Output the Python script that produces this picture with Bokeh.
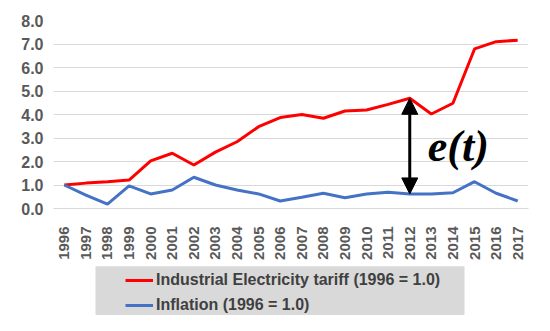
import math
from bokeh.plotting import figure
from bokeh.layouts import column
from bokeh.models import (FactorRange, Range1d, Legend, LegendItem, BoxAnnotation,
                          Arrow, NormalHead, ColumnDataSource, SingleIntervalTicker,
                          NumeralTickFormatter)
from bokeh.core.properties import value
from bokeh.embed import file_html
from bokeh.resources import INLINE

years = [str(y) for y in range(1996, 2018)]
tariff = [1.00, 1.08, 1.14, 1.21, 2.03, 2.35, 1.85, 2.40, 2.84, 3.48, 3.87,
          4.00, 3.84, 4.15, 4.19, 4.43, 4.69, 4.02, 4.48, 6.79, 7.10, 7.16]
inflation = [1.00, 0.57, 0.19, 0.96, 0.62, 0.79, 1.33, 1.00, 0.79, 0.62, 0.32,
             0.48, 0.65, 0.46, 0.62, 0.69, 0.62, 0.62, 0.67, 1.14, 0.65, 0.32]
tariff_label = "Industrial Electricity tariff (1996 = 1.0)"
inflation_label = "Inflation (1996 = 1.0)"
gap_year = "2012"
gap_text = "e(t)"
RED = "#ff0000"
BLUE = "#4472c4"

p = figure(width=534, height=262, x_range=FactorRange(factors=years, range_padding=0),
           y_range=Range1d(0, 8), output_backend="svg", toolbar_location=None,
           min_border_left=53, min_border_top=20, min_border_right=6, min_border_bottom=53)
p.outline_line_color = None

r1 = p.line(years, tariff, line_color=RED, line_width=3)
r2 = p.line(years, inflation, line_color=BLUE, line_width=3)

i = years.index(gap_year)
src = ColumnDataSource(dict(x=[gap_year], y0=[inflation[i]], y1=[tariff[i]]))
p.add_layout(Arrow(x_start="x", y_start="y0", x_end="x", y_end="y1", source=src,
                   line_color="black", line_width=3,
                   start=NormalHead(size=16, fill_color="black", line_color="black"),
                   end=NormalHead(size=16, fill_color="black", line_color="black")))
p.text(x=[gap_year], y=[(inflation[i] + tariff[i]) / 2], text=[gap_text], x_offset=18,
       text_font=value("Liberation Serif"), text_font_style="bold italic",
       text_font_size="44px", text_baseline="middle", text_align="left", text_color="black")

# axes
p.yaxis.ticker = SingleIntervalTicker(interval=1)
p.yaxis.formatter = NumeralTickFormatter(format="0.0")
p.yaxis.axis_line_color = None
p.yaxis.major_tick_line_color = None
p.yaxis.minor_tick_line_color = None
p.yaxis.major_tick_out = 0
p.yaxis.major_label_standoff = 6
p.yaxis.major_label_text_font = "Liberation Sans"
p.yaxis.major_label_text_font_style = "bold"
p.yaxis.major_label_text_font_size = "16px"
p.yaxis.major_label_text_color = "#595959"

p.xaxis.axis_line_color = "#d9d9d9"
p.xaxis.major_tick_line_color = None
p.xaxis.major_tick_out = 0
p.xaxis.major_label_standoff = 18
p.xaxis.major_label_orientation = math.pi / 2
p.xaxis.major_label_text_font = "Liberation Sans"
p.xaxis.major_label_text_font_style = "bold"
p.xaxis.major_label_text_font_size = "15px"
p.xaxis.major_label_text_color = "#595959"

p.xgrid.grid_line_color = None
p.ygrid.grid_line_color = "#d9d9d9"
p.ygrid.grid_line_width = 1

# legend strip below the chart (its frame is aligned with the chart's frame: x 53..528)
p2 = figure(width=534, height=53, x_range=Range1d(53, 528), y_range=Range1d(0, 53),
            output_backend="svg", toolbar_location=None, min_border=0)
p2.axis.visible = False
p2.grid.visible = False
p2.outline_line_color = None
p2.add_layout(BoxAnnotation(left=95, right=464, bottom=0, top=49.3,
                            fill_color="#d9d9d9", fill_alpha=1, line_color=None))
nan = float("nan")
k1 = p2.line([nan], [nan], line_color=RED, line_width=3)
k2 = p2.line([nan], [nan], line_color=BLUE, line_width=3)
legend = Legend(items=[LegendItem(label=tariff_label, renderers=[k1]),
                       LegendItem(label=inflation_label, renderers=[k2])],
                location=(72, 0), padding=2, spacing=5, label_height=20, margin=0,
                glyph_width=28, glyph_height=20, label_standoff=3,
                background_fill_alpha=0, border_line_color=None,
                label_text_font="Liberation Sans", label_text_font_style="bold",
                label_text_font_size="16px", label_text_color="#404040")
p2.add_layout(legend, "center")

open("out.html", "w").write(file_html(column(p, p2, spacing=0), INLINE))
